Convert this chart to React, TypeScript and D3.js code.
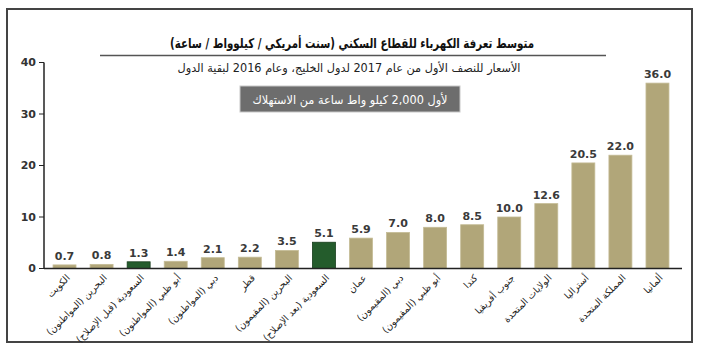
import React from 'react';
import * as d3 from 'd3';

const RLM = '\u200F';

const categories = [
  'الكويت',
  'البحرين (المواطنون)',
  'السعودية (قبل الإصلاح)',
  'أبو ظبي (المواطنون)',
  'دبي (المواطنون)',
  'قطر',
  'البحرين (المقيمون)',
  'السعودية (بعد الإصلاح)',
  'عمان',
  'دبي (المقيمون)',
  'أبو ظبي (المقيمون)',
  'كندا',
  'جنوب أفريقيا',
  'الولايات المتحدة',
  'أستراليا',
  'المملكة المتحدة',
  'ألمانيا',
];
const tariffs = [0.7, 0.8, 1.3, 1.4, 2.1, 2.2, 3.5, 5.1, 5.9, 7.0, 8.0, 8.5, 10.0, 12.6, 20.5, 22.0, 36.0];
// Saudi bars (before / after reform) are highlighted in green
const highlighted = ['السعودية (قبل الإصلاح)', 'السعودية (بعد الإصلاح)'];
const yTicks = [0, 10, 20, 30, 40];

const title = 'متوسط تعرفة الكهرباء للقطاع السكني (سنت أمريكي / كيلوواط / ساعة)';
const subtitle = 'الأسعار للنصف الأول من عام 2017 لدول الخليج، وعام 2016 لبقية الدول';
const note = 'لأول 2,000 كيلو واط ساعة من الاستهلاك';

const W = 702;
const H = 351;
const font = '"DejaVu Sans", Verdana, sans-serif';

export default function App() {
  const x = d3.scaleBand<string>()
    .domain(categories)
    .range([46, 676])
    .paddingInner(0.38)
    .paddingOuter(0.19);

  const y = d3.scaleLinear().domain([0, 40]).range([268.5, 62.5]);

  const rtl = (s: string) => RLM + s + RLM;

  return (
    <svg width={W} height={H} style={{ position: 'absolute', left: 0, top: 0, background: '#fff' }}>
      <rect x={7} y={9} width={685} height={333} fill="none" stroke="#444" strokeWidth={2} />

      {/* title block */}
      <text x={352} y={48} textAnchor="middle" fontFamily={font} fontWeight="bold" fontSize={13.5}
        fill="#111" textLength={364} lengthAdjust="spacingAndGlyphs">{rtl(title)}</text>
      <line x1={100} x2={606} y1={55.5} y2={55.5} stroke="#555" strokeWidth={1.5} />
      <text x={349} y={72} textAnchor="middle" fontFamily={font} fontSize={11.5}
        fill="#222" textLength={343} lengthAdjust="spacingAndGlyphs">{rtl(subtitle)}</text>

      <rect x={240} y={86} width={220} height={26} fill="#6d6d6d" stroke="#c8c8c8" strokeWidth={1} />
      <text x={350} y={103.5} textAnchor="middle" fontFamily={font} fontSize={12}
        fill="#fff" textLength={195} lengthAdjust="spacingAndGlyphs">{rtl(note)}</text>

      {/* y axis */}
      <line x1={44} x2={44} y1={y(40)} y2={y(0)} stroke="#222" strokeWidth={1.5} />
      {yTicks.map(t => (
        <g key={t} transform={`translate(44,${y(t)})`}>
          <line x1={-5} x2={0} stroke="#222" />
          <text x={-8} dy="0.35em" textAnchor="end" fontFamily={font} fontWeight="bold"
            fontSize={11} fill="#333">{t}</text>
        </g>
      ))}

      {/* bars */}
      {categories.map((c, i) => {
        const v = tariffs[i];
        const green = highlighted.includes(c);
        const bx = x(c) as number;
        return (
          <g key={c}>
            <rect x={bx} y={y(v)} width={x.bandwidth()} height={y(0) - y(v)}
              fill={green ? '#245c2c' : '#b1a679'} stroke={green ? '#173d1c' : '#c4bb95'} strokeWidth={0.8} />
            <text x={bx + x.bandwidth() / 2} y={y(v) - 5} textAnchor="middle" fontFamily={font}
              fontWeight="bold" fontSize={11} fill="#3a3a3a">{v.toFixed(1)}</text>
          </g>
        );
      })}

      {/* x axis */}
      <line x1={44} x2={682} y1={y(0)} y2={y(0)} stroke="#222" strokeWidth={1.5} />
      {categories.map(c => {
        const cx = (x(c) as number) + x.bandwidth() / 2 + 6;
        return (
          <text key={c} transform={`translate(${cx},${y(0) + 10}) rotate(-45)`} textAnchor="end"
            fontFamily={font} fontSize={9.5} fill="#1a1a1a">{rtl(c)}</text>
        );
      })}
    </svg>
  );
}
